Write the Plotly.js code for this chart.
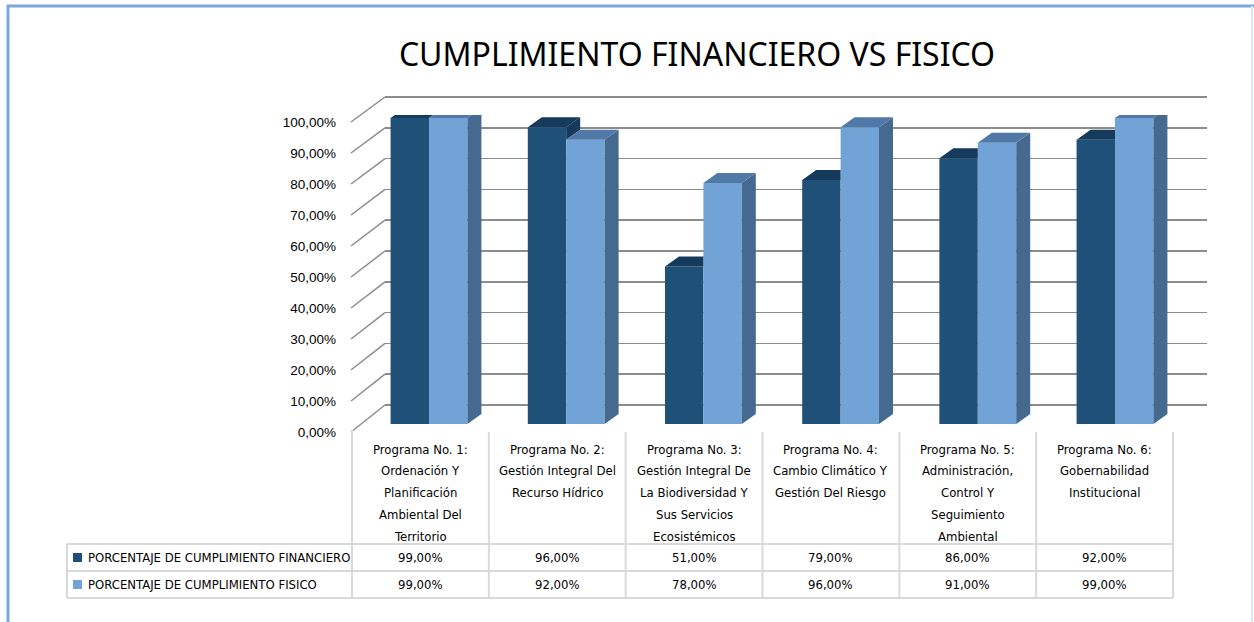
<!DOCTYPE html>
<html>
<head>
<meta charset="utf-8">
<script src="https://cdn.plot.ly/plotly-3.0.1.min.js"></script>
<style>html,body{margin:0;padding:0;background:#fff;}#chart{width:1254px;height:622px;}</style>
</head>
<body>
<div id="chart"></div>
<script>
// ---- data ----
const categories = [
  "Programa No. 1:<br>Ordenación Y<br>Planificación<br>Ambiental Del<br>Territorio",
  "Programa No. 2:<br>Gestión Integral Del<br>Recurso Hídrico",
  "Programa No. 3:<br>Gestión Integral De<br>La Biodiversidad Y<br>Sus Servicios<br>Ecosistémicos",
  "Programa No. 4:<br>Cambio Climático Y<br>Gestión Del Riesgo",
  "Programa No. 5:<br>Administración,<br>Control Y<br>Seguimiento<br>Ambiental",
  "Programa No. 6:<br>Gobernabilidad<br>Institucional"
];
const seriesNames = ["PORCENTAJE DE CUMPLIMIENTO FINANCIERO", "PORCENTAJE DE CUMPLIMIENTO FISICO"];
const financiero = [99, 96, 51, 79, 86, 92];
const fisico = [99, 92, 78, 96, 91, 99];
const yTicks = [0, 10, 20, 30, 40, 50, 60, 70, 80, 90, 100];
const titleText = "CUMPLIMIENTO FINANCIERO VS FISICO";

// ---- layout helpers ----
const W = 1254, H = 622;
const px = x => x / W;
const py = y => 1 - y / H;
const fmt = v => v.toFixed(2).replace('.', ',') + '%';

const C = {
  darkFront: '#1F5078', darkTop: '#163A5C', darkSide: '#17395A',
  lightFront: '#72A3D6', lightTop: '#5179A8', lightSide: '#466A8F',
  grid: '#8C8C8C', table: '#D9D9D9', border: '#7BA7DB'
};
const tableFont = "'DejaVu Sans Condensed', 'Liberation Sans Narrow', sans-serif";
const TFS = 13;

const idx = categories.map((_, i) => i);
const BW = 0.28;          // bar width in category units
const DX = 14 / 137.2;    // depth offset x (category units)
const DY = 10 / 3.09;     // depth offset y (value units)

// 3D faces
function faces(vals, other, xOff, isDark) {
  const side = {x: [], y: []}, top = {x: [], y: []};
  vals.forEach((v, i) => {
    const xl = i + xOff, xr = xl + BW;
    if (isDark && v < other[i]) {
      top.x.push(xl, xr, xr, xl + DX, null);
      top.y.push(v, v, v + DY, v + DY, null);
    } else {
      top.x.push(xl, xr, xr + DX, xl + DX, null);
      top.y.push(v, v, v + DY, v + DY, null);
    }
    if (isDark) {
      if (v > other[i]) {
        const lo = other[i];
        side.x.push(xr, xr, xr + DX, xr + DX, null);
        side.y.push(lo, v, v + DY, lo + DY, null);
      }
    } else {
      side.x.push(xr, xr, xr + DX, xr + DX, null);
      side.y.push(0, v, v + DY, DY, null);
    }
  });
  return {side, top};
}
const fd = faces(financiero, fisico, -BW, true);
const fl = faces(fisico, financiero, 0, false);
const poly = (p, color) => ({type: 'scatter', mode: 'lines', x: p.x, y: p.y, fill: 'toself',
  fillcolor: color, line: {width: 0, color: color}, xaxis: 'x2', yaxis: 'y2', hoverinfo: 'skip', showlegend: false});

const traces = [
  {type: 'scatter', x: [0], y: [0], xaxis: 'x', yaxis: 'y', mode: 'markers', marker: {opacity: 0}, showlegend: false, hoverinfo: 'skip'},
  {type: 'scatter', x: [0], y: [0], xaxis: 'x3', yaxis: 'y3', mode: 'markers', marker: {opacity: 0}, showlegend: false, hoverinfo: 'skip'},
  {type: 'bar', name: seriesNames[0], x: idx, y: financiero, width: BW, offset: -BW,
   marker: {color: C.darkFront, line: {width: 0}}, xaxis: 'x2', yaxis: 'y2', showlegend: false},
  {type: 'bar', name: seriesNames[1], x: idx, y: fisico, width: BW, offset: 0,
   marker: {color: C.lightFront, line: {width: 0}}, xaxis: 'x2', yaxis: 'y2', showlegend: false},
  poly(fd.side, C.darkSide), poly(fd.top, C.darkTop),
  poly(fl.side, C.lightSide), poly(fl.top, C.lightTop)
];

// ---- shapes ----
const shapes = [];
shapes.push({type: 'line', xref: 'paper', yref: 'paper', x0: px(8), x1: px(8), y0: py(5), y1: py(640), line: {color: C.border, width: 3}});
shapes.push({type: 'line', xref: 'paper', yref: 'paper', x0: px(7), x1: px(1254), y0: py(6), y1: py(6), line: {color: C.border, width: 3}});
shapes.push({type: 'line', xref: 'paper', yref: 'paper', x0: px(1252), x1: px(1252), y0: py(6), y1: py(640), line: {color: '#DCE8F5', width: 2}});
yTicks.forEach(v => {
  shapes.push({type: 'line', xref: 'paper', yref: 'paper', layer: 'below',
    x0: px(351), y0: py(432 - v * 3.1), x1: px(385), y1: py(405 - v * 3.08),
    line: {color: C.grid, width: 1.5}});
});
const colL = 352, colW = (1173 - 352) / 6;
for (let c = 0; c <= 6; c++) {
  const x = colL + c * colW;
  shapes.push({type: 'line', xref: 'paper', yref: 'paper', x0: px(x), x1: px(x), y0: py(c === 0 ? 430 : 432), y1: py(598), line: {color: C.table, width: 2}});
}
shapes.push({type: 'line', xref: 'paper', yref: 'paper', x0: px(67), x1: px(67), y0: py(544), y1: py(598), line: {color: C.table, width: 2}});
[544, 571, 598].forEach(y => shapes.push({type: 'line', xref: 'paper', yref: 'paper', x0: px(67), x1: px(1173), y0: py(y), y1: py(y), line: {color: C.table, width: 2}}));
shapes.push({type: 'rect', xref: 'paper', yref: 'paper', x0: px(73), x1: px(82), y0: py(553), y1: py(562), fillcolor: C.darkFront, line: {width: 0}});
shapes.push({type: 'rect', xref: 'paper', yref: 'paper', x0: px(73), x1: px(82), y0: py(580), y1: py(589), fillcolor: C.lightFront, line: {width: 0}});

// ---- annotations ----
const ann = [];
categories.forEach((cat, c) => {
  const cx = colL + (c + 0.5) * colW;
  cat.split('<br>').forEach((ln, k) => {
    ann.push({xref: 'paper', yref: 'paper', x: px(cx), y: py(449 + k * 21.8), text: ln, showarrow: false,
      xanchor: 'center', yanchor: 'middle', font: {family: tableFont, size: TFS, color: '#000'}});
  });
  ann.push({xref: 'paper', yref: 'paper', x: px(cx), y: py(557.5), text: fmt(financiero[c]), showarrow: false,
    xanchor: 'center', yanchor: 'middle', font: {family: tableFont, size: TFS, color: '#000'}});
  ann.push({xref: 'paper', yref: 'paper', x: px(cx), y: py(584.5), text: fmt(fisico[c]), showarrow: false,
    xanchor: 'center', yanchor: 'middle', font: {family: tableFont, size: TFS, color: '#000'}});
});
seriesNames.forEach((s, k) => {
  ann.push({xref: 'paper', yref: 'paper', x: px(86), y: py(557.5 + k * 27), text: s, showarrow: false,
    xanchor: 'left', yanchor: 'middle', font: {family: tableFont, size: TFS, color: '#000'}});
});

const layout = {
  width: W, height: H,
  margin: {l: 0, r: 0, t: 0, b: 0},
  paper_bgcolor: '#fff', plot_bgcolor: 'rgba(0,0,0,0)',
  separators: ',.',
  showlegend: false,
  barmode: 'overlay',
  title: {text: titleText, x: px(697), y: py(55), xref: 'paper', yref: 'paper', xanchor: 'center', yanchor: 'middle',
    font: {family: "'Noto Sans', 'DejaVu Sans', sans-serif", size: 32, color: '#000'}},
  xaxis: {domain: [px(385), px(1207)], range: [0, 1], visible: false, anchor: 'y'},
  yaxis: {domain: [py(405 + 2 * 3.08), py(97 - 2 * 3.08)], range: [-2, 102], anchor: 'x', dtick: 10, tick0: 0,
    showgrid: true, gridcolor: C.grid, gridwidth: 1.5, zeroline: true, zerolinecolor: C.grid, zerolinewidth: 1.5,
    showticklabels: false, ticks: '', showline: false},
  xaxis2: {domain: [px(360.4), px(1183.6)], range: [-0.5, 5.5], visible: false, anchor: 'y2'},
  yaxis2: {domain: [py(424), py(115)], range: [0, 100], visible: false, anchor: 'x2'},
  xaxis3: {domain: [px(337), px(347)], range: [0, 1], visible: false, anchor: 'y3'},
  yaxis3: {domain: [py(432), py(122)], range: [0, 100], anchor: 'x3', side: 'left',
    tickmode: 'array', tickvals: yTicks, ticktext: yTicks.map(fmt),
    showgrid: false, zeroline: false, showline: false, ticks: '',
    tickfont: {family: "'Liberation Sans', Arial, sans-serif", size: 13.5, color: '#000'}},
  shapes: shapes,
  annotations: ann
};

Plotly.newPlot('chart', traces, layout, {displayModeBar: false, staticPlot: true});
</script>
</body>
</html>
